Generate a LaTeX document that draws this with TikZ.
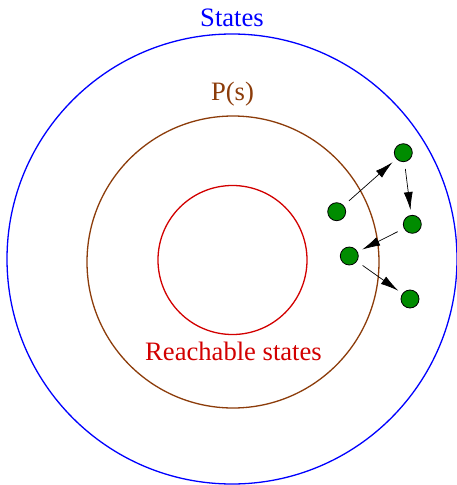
\documentclass[tikz,border=0pt]{standalone}
\usepackage{fontspec}
\setmainfont{Liberation Serif}
\usetikzlibrary{arrows.meta}
\definecolor{sblue}{RGB}{0,0,255}
\definecolor{sbrown}{RGB}{140,60,10}
\definecolor{sred}{RGB}{210,0,0}
\definecolor{sgreen}{RGB}{0,140,0}
\begin{document}
\begin{tikzpicture}[x=1pt,y=-1pt,
  ring/.style={draw,line width=1.3pt,circle,inner sep=0pt},
  lbl/.style={inner sep=0pt,font=\fontsize{26.6}{31}\selectfont},
  dot/.style={circle,draw=black,line width=0.8pt,fill=sgreen,minimum size=18pt,inner sep=0pt},
  move/.style={-{Latex[length=18pt,width=9pt]},line width=0.7pt,shorten <=7pt,shorten >=5pt}]
\useasboundingbox (0,0) rectangle (456,485);
\node[ring,sblue,minimum size=450pt] (S) at (232,259) {};
\node[ring,sbrown,minimum size=292pt] (P) at (233,262) {};
\node[ring,sred,minimum size=149pt] (R) at (232.5,260) {};
\node[lbl,text=sblue] (tS) at (232,18) {States};
\node[lbl,text=sbrown] (tP) at (232.5,94) {P(s)};
\node[lbl,text=sred] (tR) at (233.5,351) {Reachable states};
\node[dot] (d1) at (336.7,211.7) {};
\node[dot] (d2) at (403.3,152.7) {};
\node[dot] (d3) at (412.3,224.3) {};
\node[dot] (d4) at (349.3,256) {};
\node[dot] (d5) at (410,299) {};
\draw[move] (d1) -- (d2);
\draw[move] (d2) -- (d3);
\draw[move] (d3) -- (d4);
\draw[move] (d4) -- (d5);
\end{tikzpicture}
\end{document}
